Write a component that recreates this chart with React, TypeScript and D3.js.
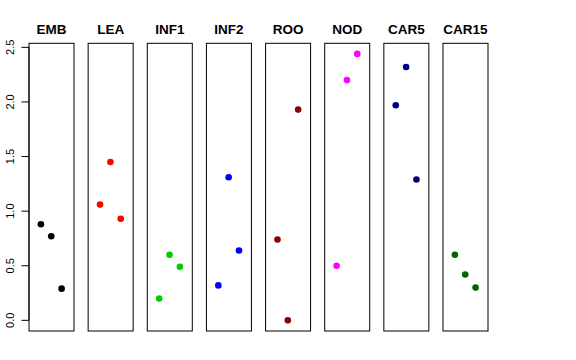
import { useEffect, useRef } from "react";
import * as d3 from "d3";

const categories = ["EMB", "LEA", "INF1", "INF2", "ROO", "NOD", "CAR5", "CAR15"];
const colors = ["#000000", "#FF0000", "#00CD00", "#0000FF", "#8B0000", "#FF00FF", "#000080", "#006400"];
// three replicate values per tissue, left to right
const values: number[][] = [
  [0.88, 0.77, 0.29],
  [1.06, 1.45, 0.93],
  [0.2, 0.6, 0.49],
  [0.32, 1.31, 0.64],
  [0.74, 0.0, 1.93],
  [0.5, 2.2, 2.44],
  [1.97, 2.32, 1.29],
  [0.6, 0.42, 0.3],
];
const yTicks = [0, 0.5, 1, 1.5, 2, 2.5];

export default function App() {
  const svgRef = useRef<SVGSVGElement>(null);

  useEffect(() => {
    const width = 576;
    const height = 360;
    const top = 43.3;
    const bottom = 331;

    const svg = d3.select(svgRef.current);
    svg.selectAll("*").remove();
    svg.attr("width", width).attr("height", height);

    const font = "'Liberation Sans', Arial, Helvetica, sans-serif";

    const panel = d3
      .scaleBand<string>()
      .domain(categories)
      .range([29, 488])
      .paddingInner(0.239)
      .paddingOuter(0);

    const y = d3.scaleLinear().domain([-0.0976, 2.537]).range([bottom, top]);
    const xIn = d3.scaleLinear().domain([-0.15, 4.2]).range([0, panel.bandwidth()]);

    categories.forEach((cat, i) => {
      const x0 = panel(cat)!;
      const g = svg.append("g").attr("transform", `translate(${x0},0)`);

      g.append("rect")
        .attr("x", 0)
        .attr("y", top)
        .attr("width", panel.bandwidth())
        .attr("height", bottom - top)
        .attr("fill", "none")
        .attr("stroke", "#000")
        .attr("stroke-width", 1);

      g.selectAll("circle")
        .data(values[i])
        .enter()
        .append("circle")
        .attr("cx", (_, j) => xIn(j + 1))
        .attr("cy", (d) => y(d))
        .attr("r", 3.3)
        .attr("fill", colors[i]);

      g.append("text")
        .attr("x", panel.bandwidth() / 2)
        .attr("y", 34)
        .attr("text-anchor", "middle")
        .attr("font-family", font)
        .attr("font-weight", "bold")
        .attr("font-size", 13.5)
        .attr("fill", "#000")
        .text(cat);
    });

    // Y axis on the left of the first panel
    const axisX = panel(categories[0])!;
    const axis = svg.append("g").attr("transform", `translate(${axisX},0)`);
    axis
      .append("line")
      .attr("x1", 0)
      .attr("x2", 0)
      .attr("y1", y(0))
      .attr("y2", y(2.5))
      .attr("stroke", "#000");

    axis
      .selectAll("line.tick")
      .data(yTicks)
      .enter()
      .append("line")
      .attr("class", "tick")
      .attr("x1", -7.5)
      .attr("x2", 0)
      .attr("y1", (d) => y(d))
      .attr("y2", (d) => y(d))
      .attr("stroke", "#000");

    axis
      .selectAll("text")
      .data(yTicks)
      .enter()
      .append("text")
      .attr("transform", (d) => `translate(-15.5,${y(d)}) rotate(-90)`)
      .attr("text-anchor", "middle")
      .attr("font-family", font)
      .attr("font-size", 11)
      .attr("fill", "#000")
      .text((d) => d3.format(".1f")(d));
  }, []);

  return (
    <svg
      ref={svgRef}
      style={{ position: "absolute", left: 0, top: 0, background: "#fff" }}
    />
  );
}
